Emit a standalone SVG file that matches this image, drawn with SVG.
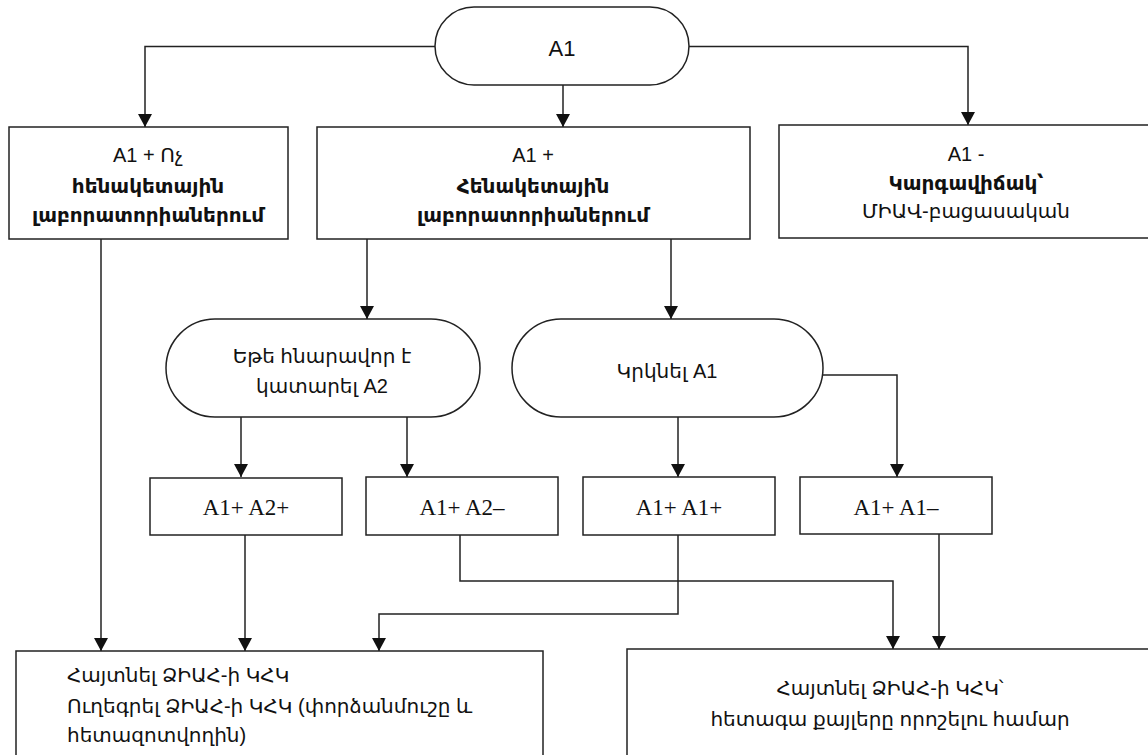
<svg xmlns="http://www.w3.org/2000/svg" width="1148" height="755" viewBox="0 0 1148 755">
<style>
.box{fill:#fff;stroke:#222;stroke-width:1.5}
.con{fill:none;stroke:#222;stroke-width:1.5;marker-end:url(#ah)}
.t{font-family:"Liberation Sans","DejaVu Sans",sans-serif;font-size:20px;fill:#111;text-anchor:middle}
.b{font-weight:bold}
.l{text-anchor:start}
.s{font-family:"Liberation Serif","Times New Roman",serif;font-size:23px;fill:#111;text-anchor:middle}
</style>
<defs>
<marker id="ah" viewBox="0 0 13 14" refX="13" refY="7" markerWidth="13" markerHeight="14" markerUnits="userSpaceOnUse" orient="auto">
<path d="M0,0 L13,7 L0,14 Z" fill="#111"/>
</marker>
</defs>
<g id="connectors">
<path class="con" d="M435,46.5 H145 V127"/>
<path class="con" d="M689,46.5 H968 V125"/>
<path class="con" d="M563,85 V127"/>
<path class="con" d="M101,239 V651"/>
<path class="con" d="M367,239 V319"/>
<path class="con" d="M671,239 V319"/>
<path class="con" d="M241,417 V477"/>
<path class="con" d="M407,417 V477"/>
<path class="con" d="M678,417 V477"/>
<path class="con" d="M823,375 H897 V477"/>
<path class="con" d="M245,535 V651"/>
<path class="con" d="M460,535 V581 H893 V649"/>
<path class="con" d="M678,535 V614 H379 V651"/>
<path class="con" d="M939,534 V649"/>
</g>
<g id="start">
<rect class="box" x="435" y="7" width="254" height="78" rx="39"/>
<text class="t" x="562" y="56" style="font-size:22px">A1</text>
</g>
<g id="non-reference">
<rect class="box" x="9" y="127" width="279" height="112"/>
<text class="t" x="148" y="162">A1 + Ոչ</text>
<text class="t b" x="148" y="193">հենակետային</text>
<text class="t b" x="148" y="222">լաբորատորիաներում</text>
</g>
<g id="reference">
<rect class="box" x="317" y="127" width="433" height="112"/>
<text class="t" x="533" y="162">A1 +</text>
<text class="t b" x="533" y="193">Հենակետային</text>
<text class="t b" x="533" y="222">լաբորատորիաներում</text>
</g>
<g id="negative">
<rect class="box" x="779" y="125" width="380" height="113"/>
<text class="t" x="966" y="161">A1 -</text>
<text class="t b" x="966" y="190">Կարգավիճակ՝</text>
<text class="t" x="966" y="218">ՄԻԱՎ-բացասական</text>
</g>
<g id="a2-possible">
<rect class="box" x="166" y="319" width="314" height="98" rx="49"/>
<text class="t" x="322" y="363">Եթե հնարավոր է</text>
<text class="t" x="322" y="393">կատարել A2</text>
</g>
<g id="repeat-a1">
<rect class="box" x="512" y="319" width="311" height="98" rx="49"/>
<text class="t" x="667" y="378">Կրկնել A1</text>
</g>
<g id="a1p-a2p">
<rect class="box" x="150" y="478" width="192" height="57"/>
<text class="s" x="246" y="515">A1+ A2+</text>
</g>
<g id="a1p-a2n">
<rect class="box" x="366" y="477" width="192" height="58"/>
<text class="s" x="462" y="515">A1+ A2–</text>
</g>
<g id="a1p-a1p">
<rect class="box" x="583" y="477" width="192" height="58"/>
<text class="s" x="679" y="515">A1+ A1+</text>
</g>
<g id="a1p-a1n">
<rect class="box" x="800" y="477" width="192" height="57"/>
<text class="s" x="896" y="515">A1+ A1–</text>
</g>
<g id="find-send">
<rect class="box" x="16" y="651" width="527" height="120"/>
<text class="t l" x="67" y="682">Հայտնել ՁԻԱՀ-ի ԿՀԿ</text>
<text class="t l" x="67" y="713">Ուղեգրել ՁԻԱՀ-ի ԿՀԿ (փորձանմուշը և</text>
<text class="t l" x="67" y="742">հետազոտվողին)</text>
</g>
<g id="find-next">
<rect class="box" x="627" y="649" width="540" height="120"/>
<text class="t" x="890" y="695">Հայտնել ՁԻԱՀ-ի ԿՀԿ՝</text>
<text class="t" x="890" y="726">հետագա քայլերը որոշելու համար</text>
</g>
</svg>
